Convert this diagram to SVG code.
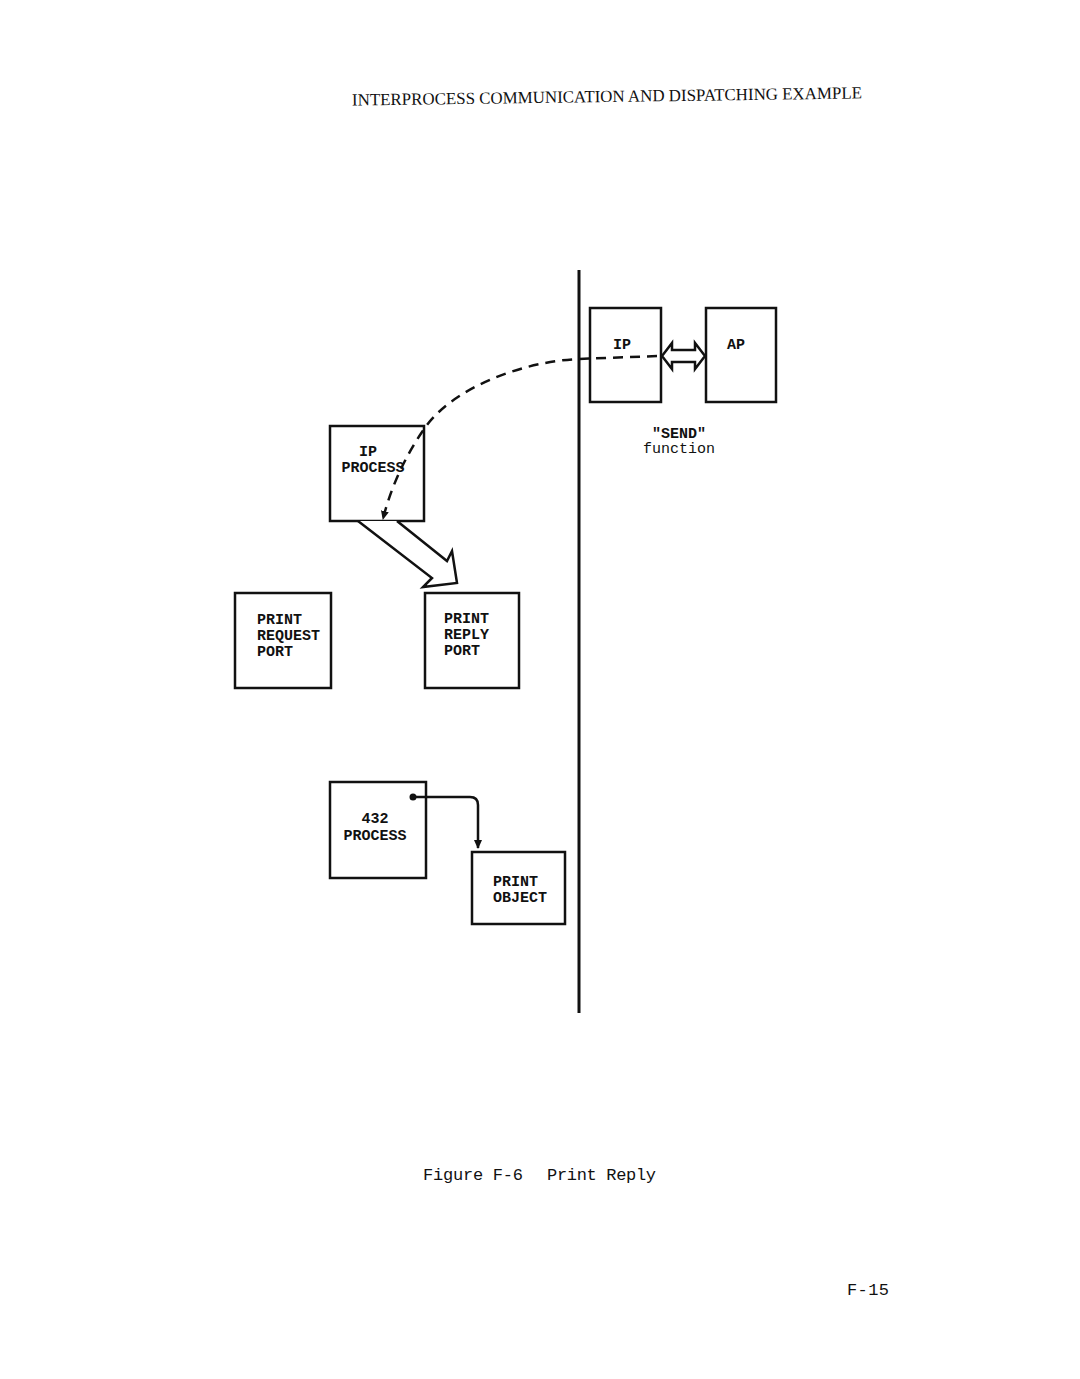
<svg xmlns="http://www.w3.org/2000/svg" width="1080" height="1379" viewBox="0 0 1080 1379">
<defs>
<style>
.box{fill:#fff;stroke:#111;stroke-width:2.5}
.lbl{font-family:"Liberation Mono","DejaVu Sans Mono",monospace;font-weight:bold;font-size:15px;fill:#111}
.cap{font-family:"Liberation Mono","DejaVu Sans Mono",monospace;font-size:17px;fill:#111}
.dash{fill:none;stroke:#111;stroke-width:2.5;stroke-dasharray:10 7}
.line{fill:none;stroke:#111;stroke-width:2.5}
</style>
<marker id="ah" markerWidth="10" markerHeight="10" refX="8" refY="5" orient="auto" markerUnits="userSpaceOnUse">
<path d="M0,1 L9,5 L0,9 Z" fill="#111"/>
</marker>
</defs>
<rect width="1080" height="1379" fill="#fff"/>
<text x="352" y="102" class="cap" style="font-family:'Liberation Serif',serif;font-size:17px" textLength="510" lengthAdjust="spacingAndGlyphs" transform="rotate(-0.8 607 98)">INTERPROCESS COMMUNICATION AND DISPATCHING EXAMPLE</text>
<line x1="579" y1="270" x2="579" y2="1013" stroke="#111" stroke-width="3"/>
<g id="ip-right"><rect class="box" x="590" y="308" width="71" height="94"/><text class="lbl" x="622" y="349" text-anchor="middle">IP</text></g>
<g id="ap"><rect class="box" x="706" y="308" width="70" height="94"/><text class="lbl" x="736" y="349" text-anchor="middle">AP</text></g>
<g id="send-label"><text class="lbl" x="679" y="438" text-anchor="middle">"SEND"</text><text class="lbl" x="679" y="453" text-anchor="middle" style="font-weight:normal">function</text></g>
<g id="ip-process"><rect class="box" x="330" y="426" width="94" height="95"/><text class="lbl" x="368" y="456" text-anchor="middle">IP</text><text class="lbl" x="373" y="472" text-anchor="middle">PROCESS</text></g>
<g id="print-request-port"><rect class="box" x="235" y="593" width="96" height="95"/><text class="lbl" x="257" y="624">PRINT</text><text class="lbl" x="257" y="640">REQUEST</text><text class="lbl" x="257" y="656">PORT</text></g>
<g id="print-reply-port"><rect class="box" x="425" y="593" width="94" height="95"/><text class="lbl" x="444" y="623">PRINT</text><text class="lbl" x="444" y="639">REPLY</text><text class="lbl" x="444" y="655">PORT</text></g>
<g id="process-432"><rect class="box" x="330" y="782" width="96" height="96"/><text class="lbl" x="375" y="823" text-anchor="middle">432</text><text class="lbl" x="375" y="840" text-anchor="middle">PROCESS</text></g>
<g id="print-object"><rect class="box" x="472" y="852" width="93" height="72"/><text class="lbl" x="493" y="886">PRINT</text><text class="lbl" x="493" y="902">OBJECT</text></g>
<g id="connectors">
<path class="dash" d="M657 356 L578 359 C520 362 455 388 427 425 C405 455 390 490 383 519" marker-end="url(#ah)"/>
<path d="M662 356 L672 343 L672 350 L695 350 L695 343 L705 356 L695 369 L695 362 L672 362 L672 369 Z" fill="#fff" stroke="#111" stroke-width="2.5" stroke-linejoin="miter"/>
<path d="M358 521 L432 578 L423 587 L457 583 L452 551 L447 561 L397 521" fill="#fff" stroke="#111" stroke-width="2.5" stroke-linejoin="miter"/>
<circle cx="413" cy="797" r="3.5" fill="#111"/>
<path class="line" d="M413 797 L470 797 Q478 797 478 805 L478 848" marker-end="url(#ah)"/>
</g>
<text class="cap" y="1180"><tspan x="423" textLength="100">Figure F-6</tspan><tspan x="547" textLength="109">Print Reply</tspan></text>
<text class="cap" x="847" y="1295" textLength="42">F-15</text>
</svg>
